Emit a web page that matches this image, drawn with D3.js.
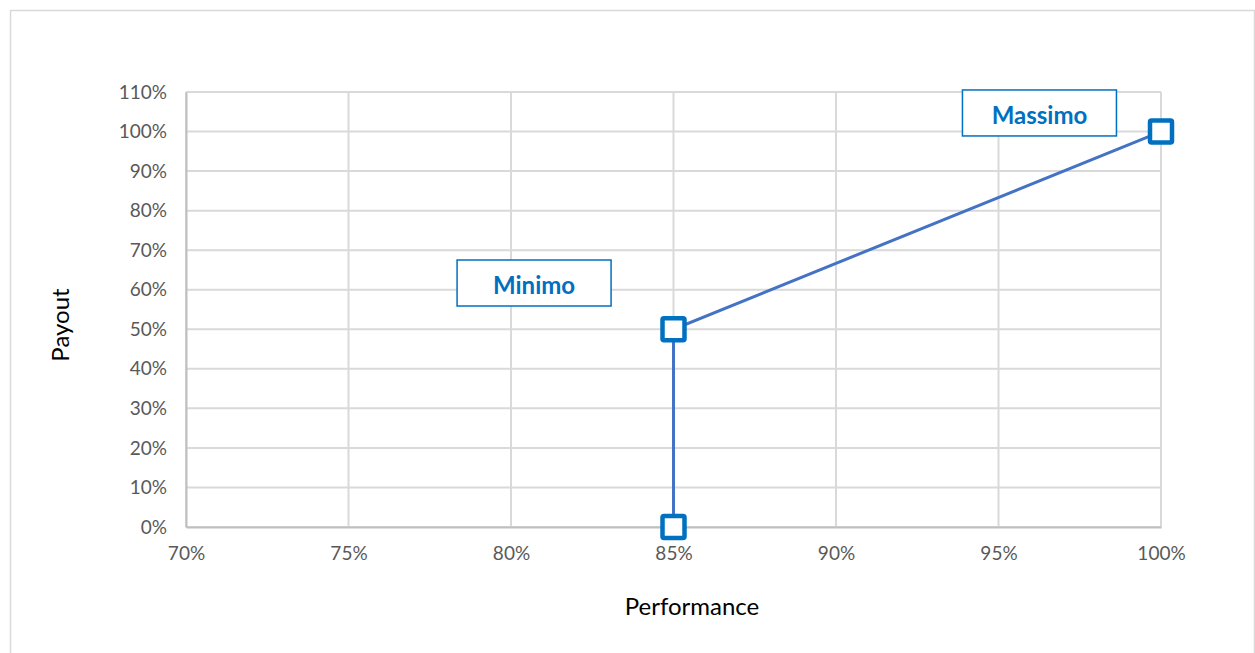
<!DOCTYPE html>
<html>
<head>
<meta charset="utf-8">
<script src="https://cdn.jsdelivr.net/npm/d3@7"></script>
<style>
  body { margin: 0; background: #fff; }
  text { font-family: Lato, "Open Sans", sans-serif; }
</style>
</head>
<body>
<div id="chart"></div>
<script>
// data
var performance = [0.85, 0.85, 1.00]
var payout = [0.00, 0.50, 1.00]
var xTicks = [0.70, 0.75, 0.80, 0.85, 0.90, 0.95, 1.00]
var yTicks = [0, 0.1, 0.2, 0.3, 0.4, 0.5, 0.6, 0.7, 0.8, 0.9, 1.0, 1.1]
var labelNames = ["Minimo", "Massimo"]
var labelX = [0.8071, 0.9626]
var labelY = [0.617, 1.047]

var width = 1255, height = 653
var svg = d3.select("#chart").append("svg")
            .attr("width", width)
            .attr("height", height)

// outer chart border (right and bottom run off the page)
svg.append("rect")
   .attr("x", 10.5).attr("y", 10.5)
   .attr("width", 1244).attr("height", 660)
   .attr("fill", "none")
   .attr("stroke", "#d9d9d9")
   .attr("stroke-width", 1.5)

var x = d3.scaleLinear().domain([0.70, 1.00]).range([186, 1161])
var y = d3.scaleLinear().domain([0, 1.10]).range([527, 92])
var pct = d3.format(".0%")

// gridlines
svg.append("g").selectAll("line")
   .data(yTicks)
   .enter().append("line")
   .attr("x1", x(0.70)).attr("x2", x(1.00))
   .attr("y1", d => y(d)).attr("y2", d => y(d))
   .attr("stroke", "#d9d9d9").attr("stroke-width", 2)

svg.append("g").selectAll("line")
   .data(xTicks)
   .enter().append("line")
   .attr("x1", d => x(d)).attr("x2", d => x(d))
   .attr("y1", y(0)).attr("y2", y(1.10))
   .attr("stroke", "#d9d9d9").attr("stroke-width", 2)

// axes
var yAxis = svg.append("g")
   .attr("transform", "translate(" + x(0.70) + ",0)")
   .call(d3.axisLeft(y).tickValues(yTicks).tickFormat(pct).tickSize(0).tickPadding(19))
var xAxis = svg.append("g")
   .attr("transform", "translate(0," + y(0) + ")")
   .call(d3.axisBottom(x).tickValues(xTicks).tickFormat(pct).tickSize(0).tickPadding(20))

svg.selectAll(".domain").attr("stroke", "#bfbfbf").attr("stroke-width", 2)
svg.selectAll(".tick text")
   .attr("fill", "#595959")
   .style("font-size", "19px")

// axis titles
svg.append("text")
   .attr("transform", "translate(69,325) rotate(-90)")
   .attr("text-anchor", "middle")
   .style("font-size", "24px")
   .attr("fill", "#000")
   .text("Payout")

svg.append("text")
   .attr("x", 692).attr("y", 615)
   .attr("text-anchor", "middle")
   .style("font-size", "24px")
   .attr("fill", "#000")
   .text("Performance")

// line
var pts = performance.map((p, i) => [p, payout[i]])
svg.append("path")
   .datum(pts)
   .attr("d", d3.line().x(d => x(d[0])).y(d => y(d[1])))
   .attr("fill", "none")
   .attr("stroke", "#4472c4")
   .attr("stroke-width", 3)

// markers
svg.append("g").selectAll("rect")
   .data(pts)
   .enter().append("rect")
   .attr("x", d => x(d[0]) - 11)
   .attr("y", d => y(d[1]) - 11)
   .attr("width", 22).attr("height", 22)
   .attr("rx", 1.5)
   .attr("fill", "#fff")
   .attr("stroke", "#0070c0")
   .attr("stroke-width", 4.5)

// annotation boxes
var labels = svg.selectAll(".label")
   .data(labelNames)
   .enter().append("g")
   .attr("class", "label")
   .attr("transform", (d, i) => "translate(" + x(labelX[i]) + "," + y(labelY[i]) + ")")

labels.append("rect")
   .attr("x", -77).attr("y", -23)
   .attr("width", 154).attr("height", 46)
   .attr("fill", "#fff")
   .attr("stroke", "#0070c0")
   .attr("stroke-width", 1.5)

labels.append("text")
   .attr("text-anchor", "middle")
   .attr("y", 3)
   .attr("dy", "0.35em")
   .attr("fill", "#0070c0")
   .style("font-size", "24px")
   .style("font-weight", "bold")
   .text(d => d)
</script>
</body>
</html>
